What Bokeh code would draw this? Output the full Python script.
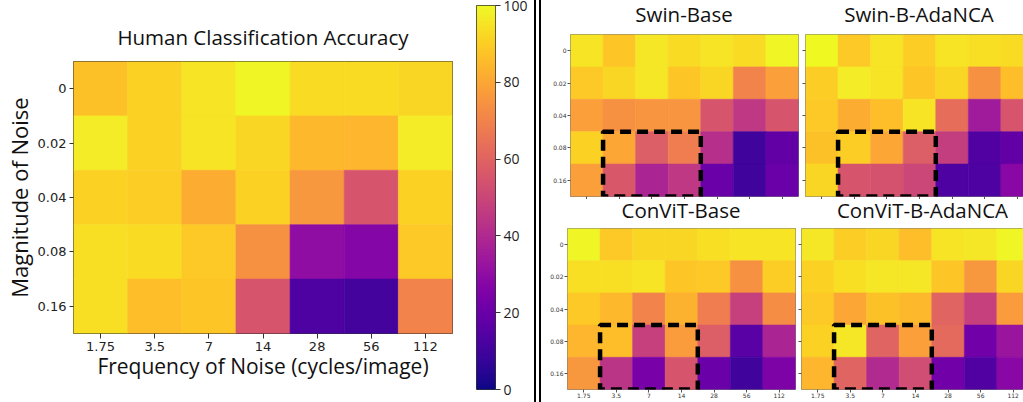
import numpy as np
from bokeh.plotting import figure
from bokeh.models import (Range1d, FixedTicker, LinearColorMapper, BoxAnnotation,
                          Div, ColumnDataSource)
from bokeh.layouts import row, column
from bokeh.palettes import Plasma256
from bokeh.transform import transform
from bokeh.embed import file_html
from bokeh.resources import INLINE

# ---------------- data ----------------
FREQS = ["1.75", "3.5", "7", "14", "28", "56", "112"]
MAGS = ["0", "0.02", "0.04", "0.08", "0.16"]

HUMAN = [
    [87, 91, 95, 99, 93, 93, 92],
    [97, 91, 95, 92, 85, 84, 97],
    [91, 90, 82, 91, 76, 55, 91],
    [94, 93, 89, 74, 30, 27, 89],
    [94, 86, 88, 55, 13, 11, 70],
]
SWIN_BASE = [
    [95, 88, 96, 93, 95, 93, 99],
    [89, 92, 96, 88, 92, 70, 78],
    [78, 74, 75, 75, 55, 45, 55],
    [91, 80, 58, 68, 42, 10, 18],
    [78, 56, 38, 45, 20, 10, 20],
]
SWIN_ADANCA = [
    [100, 89, 95, 90, 95, 94, 93],
    [90, 97, 95, 88, 92, 74, 86],
    [89, 82, 86, 95, 63, 35, 55],
    [87, 90, 80, 58, 47, 14, 18],
    [92, 55, 54, 50, 13, 13, 28],
]
CONVIT_BASE = [
    [99, 89, 92, 92, 94, 95, 95],
    [94, 94, 95, 88, 89, 74, 90],
    [89, 85, 70, 83, 68, 48, 73],
    [84, 86, 48, 77, 58, 16, 38],
    [76, 44, 24, 55, 20, 10, 25],
]
CONVIT_ADANCA = [
    [96, 90, 92, 86, 95, 96, 99],
    [91, 94, 96, 96, 88, 76, 92],
    [89, 80, 87, 85, 60, 48, 77],
    [91, 96, 60, 78, 62, 22, 33],
    [84, 60, 40, 52, 22, 14, 28],
]
HIGHLIGHT_FREQS = ["3.5", "7", "14"]
HIGHLIGHT_MAGS = ["0.08", "0.16"]
CBAR_TICKS = [0, 20, 40, 60, 80, 100]
PANEL_TITLES = ["Swin-Base", "Swin-B-AdaNCA", "ConViT-Base", "ConViT-B-AdaNCA"]

TITLE_FONT = "Open Sans"
TICK_FONT = "DejaVu Sans"

mapper = LinearColorMapper(palette=Plasma256, low=CBAR_TICKS[0], high=CBAR_TICKS[-1])


def grid_source(values):
    xs, ys, vs = [], [], []
    for r, rv in enumerate(values):
        for c, v in enumerate(rv):
            xs.append(c)
            ys.append(r)
            vs.append(v)
    return ColumnDataSource(dict(x=xs, y=ys, v=vs))


def heatmap(values, width, height, bl, br, bt, bb, frame_w_full,
            xlabels=True, ylabels=True, tick_size="6px", tick_out=3,
            outline="#7a7a7a", highlight=False):
    frame_w = width - bl - br
    cell_w = frame_w_full / len(FREQS)
    x_end = -0.5 + frame_w / cell_w
    p = figure(width=width, height=height, x_range=Range1d(-0.5, x_end),
               y_range=Range1d(len(MAGS) - 0.5, -0.5),
               toolbar_location=None, tools="", output_backend="svg",
               min_border_left=bl, min_border_right=br,
               min_border_top=bt, min_border_bottom=bb, frame_align=False)
    src = grid_source(values)
    p.rect(x="x", y="y", width=1, height=1, source=src,
           fill_color=transform("v", mapper), line_color=transform("v", mapper),
           line_width=0.6)
    p.grid.visible = False
    p.outline_line_color = outline
    p.outline_line_width = 1
    p.background_fill_color = "white"
    p.border_fill_color = "white"

    p.xaxis.ticker = FixedTicker(ticks=list(range(len(FREQS))))
    p.yaxis.ticker = FixedTicker(ticks=list(range(len(MAGS))))
    p.xaxis.major_label_overrides = {i: f for i, f in enumerate(FREQS)}
    p.yaxis.major_label_overrides = {i: m for i, m in enumerate(MAGS)}
    for ax in (p.xaxis[0], p.yaxis[0]):
        ax.axis_line_color = None
        ax.minor_tick_line_color = None
        ax.major_tick_in = 0
        ax.major_tick_out = tick_out
        ax.major_tick_line_color = "#555555"
        ax.major_label_text_font = TICK_FONT
        ax.major_label_text_font_size = tick_size
        ax.major_label_text_color = "#333333"
        ax.major_label_standoff = 1
    p.xaxis.major_label_standoff = 0
    if not ylabels:
        p.yaxis.major_label_standoff = 0
        p.yaxis.major_label_text_font_size = "0px"
        p.yaxis.major_label_text_color = None
    if not xlabels:
        p.xaxis.major_label_text_font_size = "0px"
        p.xaxis.major_label_text_color = None

    if highlight:
        xi = [FREQS.index(f) for f in HIGHLIGHT_FREQS]
        yi = [MAGS.index(m) for m in HIGHLIGHT_MAGS]
        box = BoxAnnotation(left=min(xi) - 0.5, right=max(xi) + 0.5,
                            top=min(yi) - 0.5, bottom=max(yi) + 0.5,
                            fill_color=None, fill_alpha=0,
                            line_color="black", line_alpha=1.0,
                            line_width=4.5, line_dash="11 6")
        p.add_layout(box)
    return p


def title_div(text, width, height, line_height, pad_left, pad_right):
    return Div(text=text, width=width, height=height, margin=0,
               styles={"font-family": TITLE_FONT, "font-size": "20.5px",
                       "line-height": f"{line_height}px", "text-align": "center",
                       "color": "#111111", "white-space": "nowrap",
                       "padding-left": f"{pad_left}px", "padding-right": f"{pad_right}px",
                       "box-sizing": "border-box", "overflow": "visible"})


# ---------------- left: human heatmap ----------------
left = heatmap(HUMAN, 470, 402, 71, 18, 61, 69, 381,
               tick_size="13px", tick_out=4, outline="#333333")
left.title.text = "Human Classification Accuracy"
left.title.align = "center"
left.title.vertical_align = "bottom"
left.title.text_font = TITLE_FONT
left.title.text_font_size = "20.5px"
left.title.text_font_style = "normal"
left.title.text_color = "#111111"
left.title.standoff = 22
left.xaxis.major_tick_out = 5
left.xaxis.major_label_standoff = 3
left.yaxis.major_label_standoff = 3
left.xaxis.axis_label = "Frequency of Noise (cycles/image)"
left.yaxis.axis_label = "Magnitude of Noise"
for ax, sz in ((left.xaxis[0], "21px"), (left.yaxis[0], "22px")):
    ax.axis_label_text_font = TITLE_FONT
    ax.axis_label_text_font_size = sz
    ax.axis_label_text_font_style = "normal"
    ax.axis_label_text_color = "#111111"
    ax.major_tick_line_color = "#333333"
    ax.major_label_text_color = "#222222"
left.xaxis.axis_label_standoff = -2
left.yaxis.axis_label_standoff = 1

# ---------------- colorbar ----------------
cb = figure(width=64, height=402, x_range=Range1d(0, 1),
            y_range=Range1d(CBAR_TICKS[0], CBAR_TICKS[-1]),
            toolbar_location=None, tools="", output_backend="svg",
            x_axis_location=None, y_axis_location="right", frame_align=False,
            min_border_left=6, min_border_right=39, min_border_top=5, min_border_bottom=13)
levels = np.linspace(CBAR_TICKS[0], CBAR_TICKS[-1], 256).reshape(-1, 1)
cb.image(image=[levels], x=0, y=CBAR_TICKS[0], dw=1, dh=CBAR_TICKS[-1] - CBAR_TICKS[0],
         color_mapper=mapper)
cb.grid.visible = False
cb.outline_line_color = "#333333"
cb.yaxis.ticker = FixedTicker(ticks=CBAR_TICKS)
cb.yaxis.axis_line_color = None
cb.yaxis.minor_tick_line_color = None
cb.yaxis.major_tick_in = 0
cb.yaxis.major_tick_out = 5
cb.yaxis.major_tick_line_color = "#333333"
cb.yaxis.major_label_text_font = TITLE_FONT
cb.yaxis.major_label_text_font_size = "14px"
cb.yaxis.major_label_text_color = "#222222"
cb.yaxis.major_label_standoff = 3

# ---------------- separator ----------------
sep = Div(text="", width=7, height=402, margin=0,
          styles={"border-left": "2px solid black", "border-right": "2px solid black",
                  "box-sizing": "border-box"})

# ---------------- right: model heatmaps ----------------
tl = heatmap(SWIN_BASE, 260, 171, 29, 3, 6, 3, 228,
             xlabels=False, ylabels=True, highlight=True)
tr = heatmap(SWIN_ADANCA, 222, 171, 4, 0, 6, 3, 228,
             xlabels=False, ylabels=False, highlight=True)
bl = heatmap(CONVIT_BASE, 257, 177, 26, 3, 3, 13, 228,
             xlabels=True, ylabels=True, highlight=True)
br = heatmap(CONVIT_ADANCA, 225, 177, 3, 0, 3, 13, 228,
             xlabels=True, ylabels=False, highlight=True)

t_tl = title_div(PANEL_TITLES[0], 260, 28, 28, 29, 3)
t_tr = title_div(PANEL_TITLES[1], 222, 28, 28, 14, 0)
t_bl = title_div(PANEL_TITLES[2], 257, 26, 22, 26, 3)
t_br = title_div(PANEL_TITLES[3], 225, 26, 22, 24, 0)

right = column(row(t_tl, t_tr, spacing=0), row(tl, tr, spacing=0),
               row(t_bl, t_br, spacing=0), row(bl, br, spacing=0), spacing=0)
layout = row(left, cb, sep, right, spacing=0)

open("out.html", "w").write(file_html(layout, INLINE))
